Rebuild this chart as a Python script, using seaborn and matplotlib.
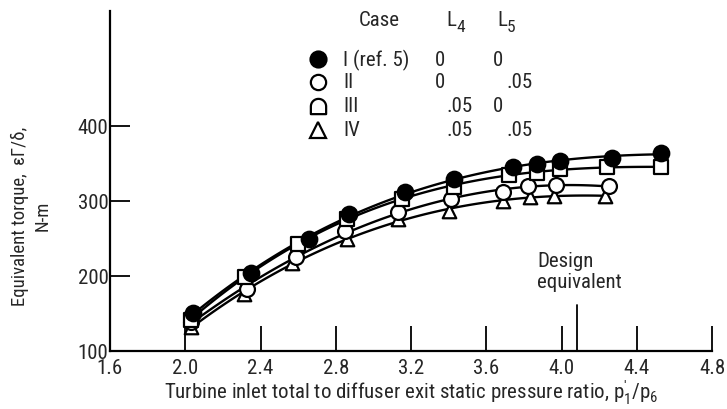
import matplotlib
matplotlib.use("Agg")
import matplotlib.pyplot as plt
import seaborn as sns
import numpy as np
from matplotlib.path import Path
from matplotlib import font_manager as fm

# ---- data ----
x_I = [2.04, 2.35, 2.66, 2.87, 3.17, 3.43, 3.74, 3.87, 3.99, 4.27, 4.53]
y_I = [151, 204, 249, 283, 312, 329, 345, 349, 354, 358, 364]
x_II = [2.03, 2.33, 2.59, 2.85, 3.13, 3.41, 3.69, 3.82, 3.97, 4.25]
y_II = [139, 183, 225, 260, 285, 303, 312, 320, 321, 320]
x_III = [2.03, 2.32, 2.60, 2.86, 3.15, 3.43, 3.72, 3.87, 3.99, 4.24, 4.53]
y_III = [142, 199, 243, 276, 303, 319, 335, 338, 343, 345, 345]
x_IV = [2.03, 2.31, 2.57, 2.86, 3.13, 3.40, 3.69, 3.83, 3.96, 4.23]
y_IV = [132, 176, 217, 249, 276, 287, 300, 305, 307, 307]

case_labels = ["I (ref. 5)", "II", "III", "IV"]
L4_values = ["0", "0", ".05", ".05"]
L5_values = ["0", ".05", "0", ".05"]

x_ticks = [1.6, 2.0, 2.4, 2.8, 3.2, 3.6, 4.0, 4.4, 4.8]
x_ticklabels = ["1.6", "2.0", "2.4", "2.8", "3.2", "3.6", "4.0", "4.4", "4.8"]
y_ticks = [100, 200, 300, 400]
design_x = 4.08

sns.set_theme(style="white")
names = {f.name for f in fm.fontManager.ttflist}
cond = [n for n in ["Liberation Sans Narrow", "DejaVu Sans Condensed", "Roboto Condensed",
                    "Open Sans Condensed", "Noto Sans Display"] if n in names]
fam = cond[0] if cond else "DejaVu Sans"
plt.rcParams["font.family"] = [fam, "DejaVu Sans"]
plt.rcParams["font.stretch"] = "condensed"
plt.rcParams["mathtext.fontset"] = "custom"
plt.rcParams["mathtext.rm"] = fam
plt.rcParams["mathtext.it"] = fam

FS = 15

W, H = 727, 410
fig = plt.figure(figsize=(W / 100, H / 100), dpi=100)
L, R, B, T = 110, 712, 352, 12
ax = fig.add_axes([L / W, (H - B) / H, (R - L) / W, (B - T) / H])

def ax_px(px, py):
    return ((px - L) / (R - L), (B - py) / (B - T))

# dome marker (flat-bottomed circle)
th = np.linspace(0, np.pi, 20)
verts = [(-1, -1), (-1, 0)] + [(np.cos(t), np.sin(t)) for t in th[::-1]] + [(1, -1), (-1, -1)]
dome = Path(verts, closed=True)

series = [
    (x_IV, y_IV, "^", "white", 95),
    (x_II, y_II, "o", "white", 115),
    (x_III, y_III, "s", "white", 95),
    (x_I, y_I, "o", "black", 125),
]

for xs, ys, m, fc, s in series:
    sns.regplot(x=xs, y=ys, order=3, ci=None, scatter=False, truncate=True, ax=ax,
                line_kws=dict(color="black", lw=1.7, zorder=2))
for xs, ys, m, fc, s in series:
    sns.scatterplot(x=xs, y=ys, marker=m, s=s, color=fc, edgecolor="black",
                    linewidth=1.6, ax=ax, zorder=3, legend=False)

ax.set_xlim(1.6, 4.8)
ax.set_ylim(100, 100 + (B - T) / 0.75)
ax.set_xticks(x_ticks)
ax.set_xticklabels(x_ticklabels)
ax.set_yticks(y_ticks)
ax.tick_params(axis="x", direction="in", length=18, width=1.3, color="black",
               labelsize=FS, pad=5, bottom=True)
ax.tick_params(axis="y", direction="in", length=14.5, width=1.3, color="black",
               labelsize=FS, pad=1, left=True)
for sp in ["top", "right"]:
    ax.spines[sp].set_visible(False)
for sp in ["left", "bottom"]:
    ax.spines[sp].set_color("black")
    ax.spines[sp].set_linewidth(1.6)

# design line
ax.plot([design_x, design_x], [100, 162], color="black", lw=1.3, zorder=2)
ax.text(*ax_px(537, 272), "Design\nequivalent", transform=ax.transAxes,
        ha="left", va="center", fontsize=FS, linespacing=1.1)

ax.set_xlabel(r"Turbine inlet total to diffuser exit static pressure ratio, $\mathrm{p_1^{\prime}/p_6}$",
              fontsize=FS, labelpad=0)
ax.text(*ax_px(31, 216), "Equivalent torque,  \u03b5\u0393/\u03b4,\nN-m", transform=ax.transAxes,
        rotation=90, ha="center", va="center", fontsize=13.5, multialignment="center",
        linespacing=1.3)

# legend table
ax.text(*ax_px(359, 20), "Case", transform=ax.transAxes, ha="left", va="center", fontsize=FS)
ax.text(*ax_px(446, 20), "L", transform=ax.transAxes, ha="left", va="center", fontsize=FS)
ax.text(*ax_px(456, 28), "4", transform=ax.transAxes, ha="left", va="center", fontsize=12.5)
ax.text(*ax_px(497, 20), "L", transform=ax.transAxes, ha="left", va="center", fontsize=FS)
ax.text(*ax_px(507, 28), "5", transform=ax.transAxes, ha="left", va="center", fontsize=12.5)

row_y = [60, 83, 107, 131]
leg_markers = [("o", "black", 11.5), ("o", "white", 11), (dome, "white", 11), ("^", "white", 11.5)]
for i, (lab, l4, l5) in enumerate(zip(case_labels, L4_values, L5_values)):
    py = row_y[i]
    m, fc, ms = leg_markers[i]
    mx, my = ax_px(318, py)
    ax.plot([mx], [my], marker=m, ms=ms, mfc=fc, mec="black", mew=1.6,
            transform=ax.transAxes, clip_on=False, ls="none")
    ax.text(*ax_px(343, py), lab, transform=ax.transAxes, ha="left", va="center", fontsize=FS)
    ax.text(*ax_px(435 if l4 == "0" else 447, py), l4, transform=ax.transAxes,
            ha="left", va="center", fontsize=FS)
    ax.text(*ax_px(493 if l5 == "0" else 507, py), l5, transform=ax.transAxes,
            ha="left", va="center", fontsize=FS)

fig.savefig("out.png", dpi=100)
